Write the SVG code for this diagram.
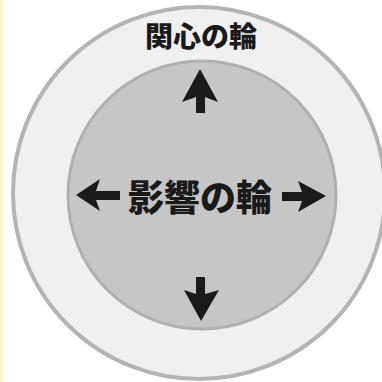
<svg xmlns="http://www.w3.org/2000/svg" width="382" height="382" viewBox="0 0 382 382">
  <style>
    .lbl { font-family: "Noto Sans CJK JP", "Noto Sans", sans-serif; font-weight: 900; fill: #1a1a1a; text-anchor: middle; }
    .arrow { fill: #1a1a1a; }
  </style>
  <rect x="0" y="0" width="382" height="382" fill="#ffffff"/>
  <rect x="0" y="0" width="3" height="382" fill="#fff8c8"/>
  <g id="circle-of-concern">
    <circle cx="199" cy="193" r="186" fill="#f0f0f0" stroke="#b4b4b4" stroke-width="4"/>
    <text class="lbl" x="201" y="47" font-size="28">関心の輪</text>
  </g>
  <g id="circle-of-influence">
    <circle cx="202" cy="195" r="134" fill="#c6c6c6" stroke="#b0b0b0" stroke-width="3"/>
    <text class="lbl" x="200" y="211" font-size="36">影響の輪</text>
  </g>
  <g id="connectors">
    <path class="arrow" d="M200 69 L218 102 L205 97 L205 113 L196 113 L196 97 L182 102 Z"/>
    <path class="arrow" d="M201 321 L219 290 L205 294 L205 277 L196 277 L196 294 L184 290 Z"/>
    <path class="arrow" d="M76 195 L100 179 L96 191 L120 191 L120 200 L96 200 L100 211 Z"/>
    <path class="arrow" d="M326 196 L298 181 L302 192 L282 192 L282 201 L302 201 L298 212 Z"/>
  </g>
</svg>
